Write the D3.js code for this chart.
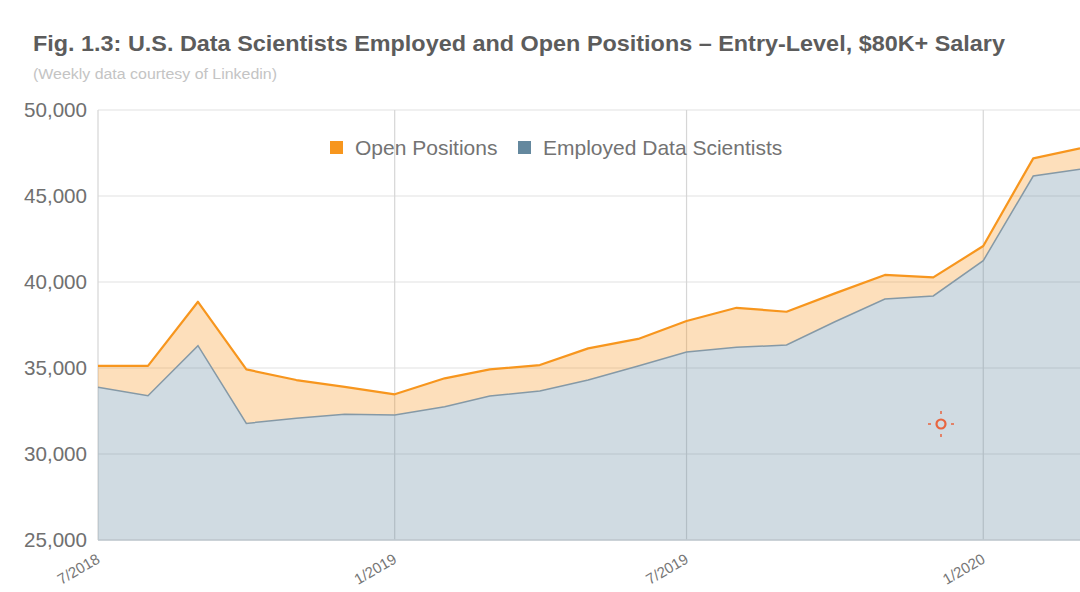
<!DOCTYPE html>
<html>
<head>
<meta charset="utf-8">
<script src="https://cdn.jsdelivr.net/npm/d3@7"></script>
<style>
  html, body { margin: 0; padding: 0; background: #fff; }
  svg { display: block; font-family: "Liberation Sans", Arial, sans-serif; }
</style>
</head>
<body>
<svg id="chart" width="1080" height="592"></svg>
<script>
// ---- Data ----
const months = ["2018-07","2018-08","2018-09","2018-10","2018-11","2018-12",
  "2019-01","2019-02","2019-03","2019-04","2019-05","2019-06","2019-07","2019-08",
  "2019-09","2019-10","2019-11","2019-12","2020-01","2020-02","2020-03"];
const employedDataScientists = [33880, 33390, 36300, 31780, 32080, 32310, 32270, 32750,
  33370, 33660, 34300, 35120, 35930, 36200, 36340, 37690, 39010, 39190, 41240, 46160, 46550];
const openPositions = [1240, 1730, 2550, 3140, 2220, 1590, 1200, 1650, 1550, 1510, 1840,
  1570, 1800, 2300, 1930, 1650, 1400, 1080, 850, 1030, 1220];
const yTicks = [25000, 30000, 35000, 40000, 45000, 50000];
const xTickLabels = ["7/2018", "1/2019", "7/2019", "1/2020"];
const xTickDates = ["2018-07", "2019-01", "2019-07", "2020-01"];
const seriesNames = ["Open Positions", "Employed Data Scientists"];
const seriesColors = ["#f7961e", "#64889e"];
const titleText = "Fig. 1.3: U.S. Data Scientists Employed and Open Positions \u2013 Entry-Level, $80K+ Salary";
const subtitleText = "(Weekly data courtesy of Linkedin)";

// ---- Build ----
const parse = d3.timeParse("%Y-%m");
const rows = months.map((m, i) => ({
  date: parse(m),
  employed: employedDataScientists[i],
  open: openPositions[i]
}));

const svg = d3.select("#chart");
const margin = { left: 98, right: 0, top: 110, bottom: 52 };
const W = 1080, H = 592;

const x = d3.scaleTime()
  .domain([parse("2018-07"), parse("2020-03")])
  .range([margin.left, W - margin.right]);
const y = d3.scaleLinear()
  .domain([25000, 50000])
  .range([H - margin.bottom, margin.top]);

const stack = d3.stack().keys(["employed", "open"]);
const stacked = stack(rows);

// Title & subtitle
svg.append("text")
  .attr("x", 33).attr("y", 50.5)
  .attr("font-size", 21.5).attr("font-weight", "bold")
  .attr("fill", "#5c5c5c")
  .attr("textLength", 972).attr("lengthAdjust", "spacingAndGlyphs")
  .text(titleText);
svg.append("text")
  .attr("x", 33).attr("y", 78.5)
  .attr("font-size", 14)
  .attr("fill", "#c4c4c4")
  .attr("textLength", 244).attr("lengthAdjust", "spacingAndGlyphs")
  .text(subtitleText);

// Horizontal gridlines
svg.append("g").selectAll("line").data(yTicks).join("line")
  .attr("x1", margin.left).attr("x2", W - margin.right)
  .attr("y1", d => y(d)).attr("y2", d => y(d))
  .attr("stroke", "#e2e2e2").attr("stroke-width", 1.2);

// Vertical gridlines
svg.append("g").selectAll("line").data(xTickDates).join("line")
  .attr("x1", d => x(parse(d))).attr("x2", d => x(parse(d)))
  .attr("y1", margin.top).attr("y2", H - margin.bottom)
  .attr("stroke", "#d6d6d6").attr("stroke-width", 1.2);

// Areas
const area = d3.area()
  .x(d => x(d.data.date))
  .y0(d => y(d[0]))
  .y1(d => y(d[1]));
const line = d3.line()
  .x(d => x(d.data.date))
  .y(d => y(d[1]));
const baseArea = d3.area()
  .x(d => x(d.data.date))
  .y0(y(25000))
  .y1(d => y(d[1]));

svg.append("path").datum(stacked[0])
  .attr("d", baseArea)
  .attr("fill", seriesColors[1]).attr("fill-opacity", 0.3);
svg.append("path").datum(stacked[1])
  .attr("d", area)
  .attr("fill", seriesColors[0]).attr("fill-opacity", 0.3);

// Lines
svg.append("path").datum(stacked[0])
  .attr("d", line)
  .attr("fill", "none").attr("stroke", "#8599a6").attr("stroke-width", 1.5);
svg.append("path").datum(stacked[1])
  .attr("d", line)
  .attr("fill", "none").attr("stroke", seriesColors[0]).attr("stroke-width", 2.2)
  .attr("stroke-linejoin", "round");

// Baseline
svg.append("line")
  .attr("x1", margin.left).attr("x2", W)
  .attr("y1", y(25000)).attr("y2", y(25000))
  .attr("stroke", "#bfc9cf").attr("stroke-width", 1.5);

// Y axis labels
svg.append("g").selectAll("text").data(yTicks).join("text")
  .attr("x", 87).attr("y", d => y(d) + 7)
  .attr("text-anchor", "end")
  .attr("font-size", 20.6)
  .attr("fill", "#707070")
  .text(d => d3.format(",")(d));

// X axis labels (slanted)
svg.append("g").selectAll("text").data(xTickDates).join("text")
  .attr("transform", d => `translate(${x(parse(d)) + 3},${562}) rotate(-30)`)
  .attr("text-anchor", "end")
  .attr("font-size", 15)
  .attr("fill", "#767676")
  .text((d, i) => xTickLabels[i]);

// Legend
const legend = svg.append("g");
const legendItems = [
  { name: seriesNames[0], color: seriesColors[0], x: 330 },
  { name: seriesNames[1], color: seriesColors[1], x: 518 }
];
legendItems.forEach(it => {
  legend.append("rect")
    .attr("x", it.x).attr("y", 141).attr("width", 13).attr("height", 13)
    .attr("fill", it.color);
  legend.append("text")
    .attr("x", it.x + 25).attr("y", 155)
    .attr("font-size", 21)
    .attr("fill", "#737373")
    .text(it.name);
});

// Small red target marker (present in the reference image)
const tg = svg.append("g").attr("transform", "translate(941,424)")
  .attr("stroke", "#e8653f").attr("fill", "none");
tg.append("circle").attr("r", 4.5).attr("stroke-width", 2.2);
[[0,-13,0,-10],[0,10,0,13],[-13,0,-10,0],[10,0,13,0]].forEach(s => {
  tg.append("line").attr("x1", s[0]).attr("y1", s[1]).attr("x2", s[2]).attr("y2", s[3])
    .attr("stroke-width", 1.5);
});
</script>
</body>
</html>
